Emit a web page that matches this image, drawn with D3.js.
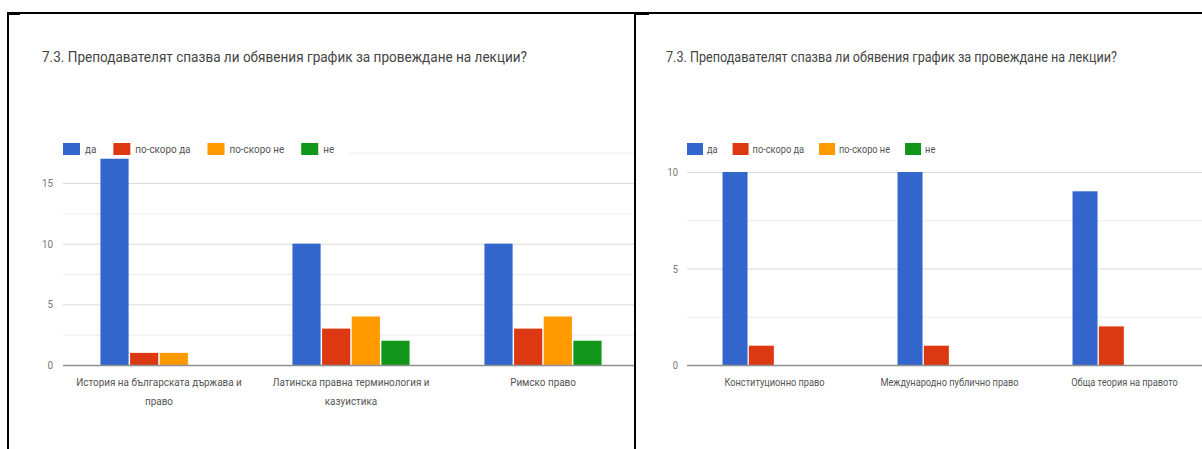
<!DOCTYPE html>
<html><head><meta charset="utf-8">
<script src="https://cdn.jsdelivr.net/npm/d3@7"></script>
<style>
body{margin:0;background:#fff}
svg{display:block}
text{font-family:Roboto,"Noto Sans",sans-serif}
</style>
</head><body>
<svg id="c" width="1202" height="449"></svg>
<script>
// ---------- data ----------
const chartTitle = "7.3. Преподавателят спазва ли обявения график за провеждане на лекции?";
const seriesNames = ["да", "по-скоро да", "по-скоро не", "не"];
const seriesColors = ["#3366cc", "#dc3912", "#ff9900", "#109618"];

const leftCategories = ["История на българската държава и право", "Латинска правна терминология и казуистика", "Римско право"];
const leftDa = [17, 10, 10];
const leftPoSkoroDa = [1, 3, 3];
const leftPoSkoroNe = [1, 4, 4];
const leftNe = [0, 2, 2];
const leftTicks = [0, 5, 10, 15];
const leftMinorTicks = [2.5, 7.5, 12.5, 17.5];

const rightCategories = ["Конституционно право", "Международно публично право", "Обща теория на правото"];
const rightDa = [10, 10, 9];
const rightPoSkoroDa = [1, 1, 2];
const rightPoSkoroNe = [0, 0, 0];
const rightNe = [0, 0, 0];
const rightTicks = [0, 5, 10];
const rightMinorTicks = [2.5, 7.5];

// ---------- drawing ----------
const svg = d3.select("#c");
const defs = svg.append("defs");

function panel(cfg, cats, rows, ticks, minor) {
  defs.append("clipPath").attr("id", "clip" + cfg.id)
    .append("rect").attr("x", cfg.clip[0]).attr("y", 0)
    .attr("width", cfg.clip[1] - cfg.clip[0]).attr("height", 449);
  const body = svg.append("g").attr("clip-path", `url(#clip${cfg.id})`);

  const x0 = d3.scaleBand().domain(cats).range(cfg.plotX)
    .paddingInner(cfg.padIn).paddingOuter(cfg.padOut);
  const x1 = d3.scaleBand().domain(seriesNames).range([0, x0.bandwidth()]).paddingInner(0.05);
  const y = d3.scaleLinear().domain(cfg.yDomain).range(cfg.yRange);
  const gridW = cfg.plotX[1] - cfg.plotX[0];

  // minor gridlines
  body.append("g").attr("transform", `translate(${cfg.plotX[0]},0)`)
    .call(d3.axisLeft(y).tickValues(minor).tickSize(-gridW).tickFormat(""))
    .call(a => a.select(".domain").remove())
    .call(a => a.selectAll("line").attr("stroke", "#ececec").attr("stroke-width", 1));
  // major gridlines
  body.append("g").attr("transform", `translate(${cfg.plotX[0]},0)`)
    .call(d3.axisLeft(y).tickValues(ticks.filter(t => t !== 0)).tickSize(-gridW).tickFormat(""))
    .call(a => a.select(".domain").remove())
    .call(a => a.selectAll("line").attr("stroke", "#dadada").attr("stroke-width", 1));

  // legend
  const lg = svg.append("g");
  const lgBg = lg.append("rect").attr("fill", "#fff");
  let cur = cfg.legendX;
  seriesNames.forEach((s, j) => {
    lg.append("rect").attr("x", cur).attr("y", cfg.legendY - 6)
      .attr("width", cfg.sqW).attr("height", 12).attr("fill", seriesColors[j]);
    const tx = cur + cfg.sqW + cfg.gap1;
    const t = lg.append("text").text(s)
      .attr("transform", `translate(${tx},${cfg.legendY}) scale(${cfg.sq},1)`)
      .attr("dy", "0.35em").attr("font-size", 11).attr("fill", "#555");
    const w = t.node().getComputedTextLength() * cfg.sq;
    cur = tx + w + cfg.gap2;
  });
  lgBg.attr("x", cfg.legendX - 3).attr("y", cfg.legendY - 8)
    .attr("width", cur - cfg.legendX).attr("height", 16);

  // bars
  const data = cats.map((c, i) => seriesNames.map((s, j) => ({ c, s, v: rows[j][i], col: seriesColors[j] })));
  body.append("g").selectAll("g").data(data).join("g")
    .attr("transform", d => `translate(${x0(d[0].c)},0)`)
    .selectAll("rect").data(d => d.filter(e => e.v > 0)).join("rect")
    .attr("x", d => x1(d.s)).attr("width", x1.bandwidth())
    .attr("y", d => y(d.v)).attr("height", d => y(0) - y(d.v))
    .attr("fill", d => d.col);

  // baseline
  body.append("g").attr("transform", `translate(${cfg.plotX[0]},0)`)
    .call(d3.axisLeft(y).tickValues([0]).tickSize(-gridW).tickFormat(""))
    .call(a => a.select(".domain").remove())
    .call(a => a.selectAll("line").attr("stroke", "#8f8f8f").attr("stroke-width", 1.5));

  // y labels
  svg.append("g").attr("transform", `translate(${cfg.yLabelX},0)`)
    .call(d3.axisLeft(y).tickValues(ticks).tickSize(0).tickPadding(0))
    .call(a => a.select(".domain").remove())
    .call(a => a.selectAll("text").attr("font-family", "Roboto, sans-serif").attr("font-size", 11)
      .attr("fill", "#777").attr("transform", `scale(${cfg.sq},1)`));

  // x labels
  const xa = svg.append("g").attr("transform", `translate(0,${cfg.labelY})`)
    .call(d3.axisBottom(x0).tickSize(0).tickPadding(0))
    .call(a => a.select(".domain").remove());
  xa.selectAll("text").each(function (d) {
    const t = d3.select(this);
    t.text(null).attr("font-family", "Roboto, sans-serif").attr("font-size", 11)
      .attr("fill", "#555").attr("dy", null).attr("y", 0)
      .attr("transform", `scale(${cfg.sq},1)`);
    const words = d.split(" ");
    const maxW = x0.step() * 0.92 / cfg.sq;
    let line = [];
    let ts = t.append("tspan").attr("x", 0).attr("y", 0);
    let ln = 0;
    words.forEach(w => {
      line.push(w);
      ts.text(line.join(" "));
      if (ts.node().getComputedTextLength() > maxW && line.length > 1) {
        line.pop();
        ts.text(line.join(" "));
        line = [w];
        ln++;
        ts = t.append("tspan").attr("x", 0).attr("y", ln * cfg.lineH).text(w);
      }
    });
  });

  // title
  svg.append("text").attr("x", cfg.titleX).attr("y", cfg.titleY)
    .attr("font-size", 14).attr("fill", "#444")
    .attr("textLength", cfg.titleW).attr("lengthAdjust", "spacingAndGlyphs")
    .text(chartTitle);
}

panel({
  id: "L", clip: [9, 634], plotX: [63, 639], padIn: 0.39, padOut: 0.195,
  yDomain: [0, 15], yRange: [365, 183],
  legendX: 63, legendY: 149, sqW: 17, gap1: 5, gap2: 17, sq: 0.9,
  yLabelX: 53, labelY: 386, lineH: 19,
  titleX: 42, titleY: 62, titleW: 485
}, leftCategories, [leftDa, leftPoSkoroDa, leftPoSkoroNe, leftNe], leftTicks, leftMinorTicks);

panel({
  id: "R", clip: [637, 1202], plotX: [687, 1212], padIn: 0.406, padOut: 0.203,
  yDomain: [0, 10], yRange: [365, 172],
  legendX: 687, legendY: 149, sqW: 16, gap1: 4, gap2: 15, sq: 0.84,
  yLabelX: 678, labelY: 386, lineH: 19,
  titleX: 666, titleY: 62, titleW: 451
}, rightCategories, [rightDa, rightPoSkoroDa, rightPoSkoroNe, rightNe], rightTicks, rightMinorTicks);

// frame lines
const frame = svg.append("g").attr("fill", "#000");
frame.append("rect").attr("x", 7).attr("y", 12).attr("width", 1195).attr("height", 2);
frame.append("rect").attr("x", 7).attr("y", 12).attr("width", 2).attr("height", 437);
frame.append("rect").attr("x", 634).attr("y", 12).attr("width", 2).attr("height", 437);
frame.append("rect").attr("x", 7).attr("y", 12).attr("width", 13).attr("height", 3);
frame.append("rect").attr("x", 634).attr("y", 12).attr("width", 15).attr("height", 3);
</script>
</body></html>
